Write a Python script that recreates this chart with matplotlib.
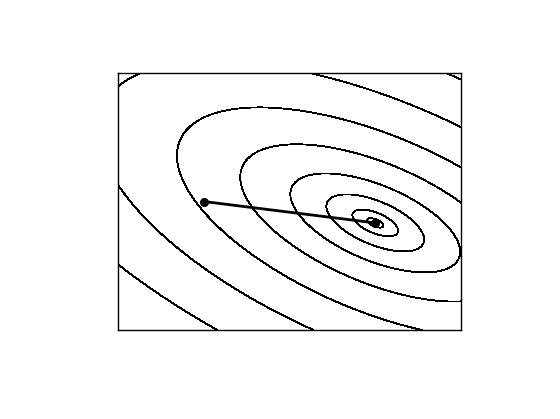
import numpy as np
import matplotlib
matplotlib.use("Agg")
import matplotlib.pyplot as plt

# Quadratic objective f(x) = (x - x_star)^T H (x - x_star)
H = [[0.34, 0.34],
     [0.34, 1.00]]
x_star = [3.0, 1.25]          # minimizer
x_start = [1.0, 1.5]          # starting point
# path of iterates (start -> minimizer)
path_x = [x_start[0], x_star[0]]
path_y = [x_start[1], x_star[1]]
# contour levels
levels = [0.002, 0.016, 0.073, 0.22, 0.556, 1.2, 2.35, 4.28]

xlim = (0.0, 4.0)
ylim = (0.0, 3.0)

fig = plt.figure(figsize=(5.6, 4.19), dpi=100)
ax = fig.add_axes([118/560, (419-330)/419, 343/560, 257/419])

xs = np.linspace(xlim[0], xlim[1], 600)
ys = np.linspace(ylim[0], ylim[1], 450)
X, Y = np.meshgrid(xs, ys)
DX = X - x_star[0]
DY = Y - x_star[1]
F = H[0][0]*DX**2 + 2*H[0][1]*DX*DY + H[1][1]*DY**2

ax.contour(X, Y, F, levels=levels, colors='k', linewidths=0.6, antialiased=False)
ax.plot(path_x, path_y, color='k', lw=2.0, marker='o', ms=5.5)

ax.set_xlim(*xlim)
ax.set_ylim(*ylim)
ax.set_xticks([])
ax.set_yticks([])
for s in ax.spines.values():
    s.set_linewidth(1.0)
    s.set_color('k')

fig.savefig("out.png", dpi=100)
